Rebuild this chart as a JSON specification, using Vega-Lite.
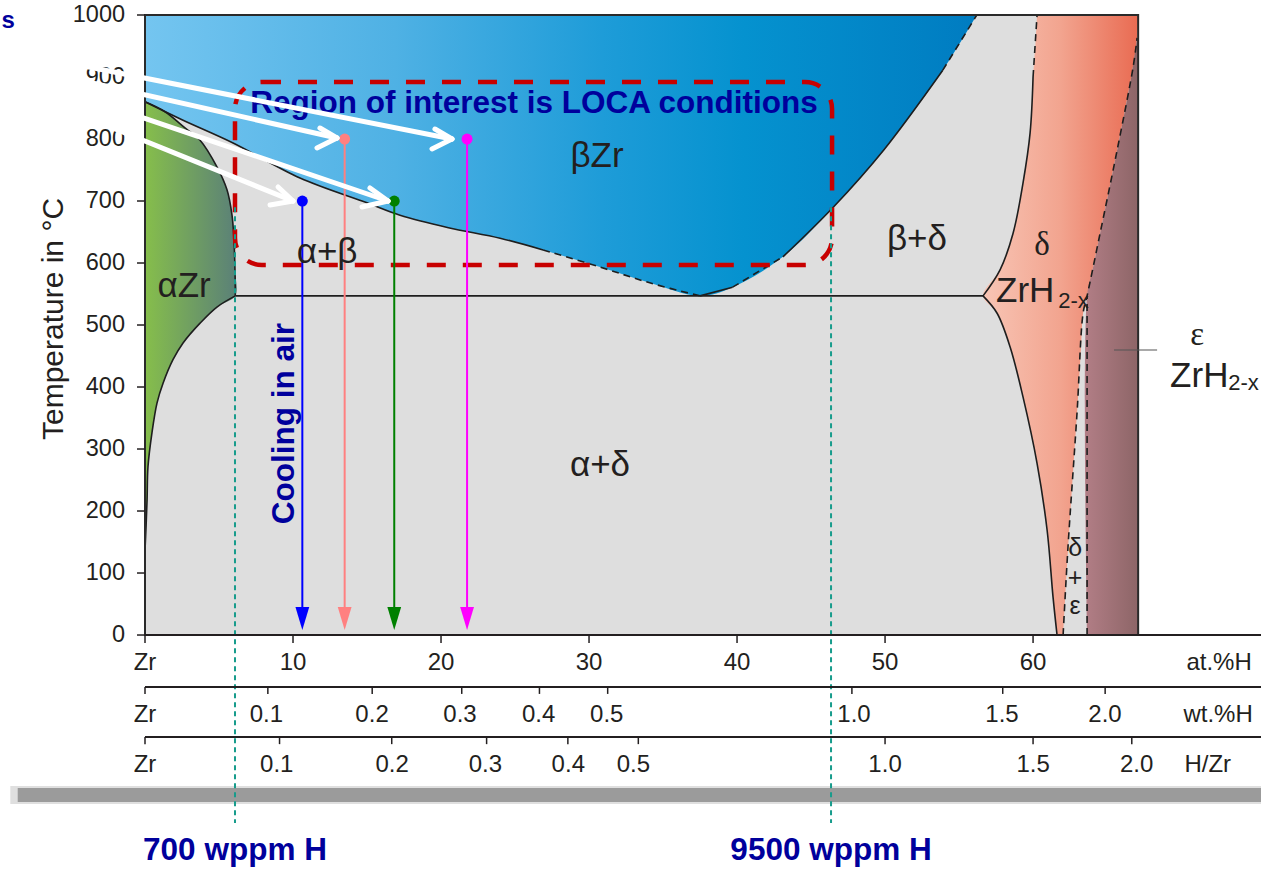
{
  "$schema": "https://vega.github.io/schema/vega-lite/v6.json",
  "width": 1116,
  "height": 856,
  "autosize": {"type": "none"},
  "padding": {"left": 145, "top": 15, "right": 0, "bottom": 0},
  "background": "white",
  "config": {"view": {"stroke": null}, "font": "Liberation Sans"},
  "datasets": {
    "frame": [{"x": 0, "x2": 67.1, "T": 0, "T2": 1000}],
    "blue": [
      {"x": 0, "T": 860}, {"x": 2.5, "T": 831}, {"x": 5.95, "T": 793.5}, {"x": 10.47, "T": 737},
      {"x": 15.0, "T": 697}, {"x": 17.23, "T": 677}, {"x": 20.5, "T": 657}, {"x": 23.99, "T": 640},
      {"x": 26.9, "T": 621}, {"x": 30.74, "T": 593.5}, {"x": 34.1, "T": 568}, {"x": 37.5, "T": 547},
      {"x": 39.7, "T": 561}, {"x": 43.1, "T": 610}, {"x": 46.5, "T": 690}, {"x": 49.9, "T": 782},
      {"x": 53.9, "T": 911}, {"x": 56.2, "T": 1000}
    ],
    "green": [
      {"T": 137, "x": 0}, {"T": 174, "x": 0.07}, {"T": 218, "x": 0.14}, {"T": 271, "x": 0.2},
      {"T": 326, "x": 0.47}, {"T": 374, "x": 0.81}, {"T": 406, "x": 1.22}, {"T": 444, "x": 1.89},
      {"T": 471, "x": 2.57}, {"T": 503, "x": 3.72}, {"T": 529, "x": 4.86}, {"T": 547, "x": 6.1},
      {"T": 589, "x": 6.08}, {"T": 637, "x": 6.01}, {"T": 677, "x": 5.88}, {"T": 718, "x": 5.54},
      {"T": 755, "x": 4.86}, {"T": 798, "x": 3.72}, {"T": 818, "x": 2.7}, {"T": 844, "x": 1.35},
      {"T": 860, "x": 0}
    ],
    "delta": [
      {"T": 0, "x": 61.62, "xr": 62.03}, {"T": 61, "x": 61.35, "xr": 62.17}, {"T": 169, "x": 60.95, "xr": 62.44},
      {"T": 277, "x": 60.27, "xr": 62.74}, {"T": 384, "x": 59.32, "xr": 63.04}, {"T": 464.5, "x": 58.45, "xr": 63.24},
      {"T": 519, "x": 57.57, "xr": 63.38}, {"T": 547, "x": 56.62, "xr": 63.65}, {"T": 589, "x": 57.77, "xr": 64.02},
      {"T": 648, "x": 58.65, "xr": 64.53}, {"T": 729, "x": 59.32, "xr": 65.23}, {"T": 810, "x": 59.8, "xr": 65.91},
      {"T": 900, "x": 60.0, "xr": 66.63}, {"T": 963, "x": 60.19, "xr": 67.03}, {"T": 1000, "x": 60.27, "xr": 67.1}
    ],
    "eps": [
      {"T": 0, "x": 63.65}, {"T": 547, "x": 63.65}, {"T": 589, "x": 64.02}, {"T": 648, "x": 64.53},
      {"T": 729, "x": 65.23}, {"T": 810, "x": 65.91}, {"T": 900, "x": 66.63}, {"T": 963, "x": 67.03}
    ],
    "solid": [
      {"id": "tL", "x": 0, "T": 860}, {"id": "tL", "x": 2.5, "T": 831}, {"id": "tL", "x": 5.95, "T": 793.5},
      {"id": "tL", "x": 10.47, "T": 737}, {"id": "tL", "x": 15.0, "T": 697}, {"id": "tL", "x": 17.23, "T": 677},
      {"id": "tL", "x": 20.5, "T": 657}, {"id": "tL", "x": 23.99, "T": 640}, {"id": "tL", "x": 26.9, "T": 621},
      {"id": "tR1", "x": 37.5, "T": 547}, {"id": "tR1", "x": 39.7, "T": 561},
      {"id": "tR2", "x": 43.1, "T": 610}, {"id": "tR2", "x": 46.5, "T": 690}, {"id": "tR2", "x": 49.9, "T": 782},
      {"id": "tR2", "x": 53.9, "T": 911},
      {"id": "aU", "x": 0, "T": 860}, {"id": "aU", "x": 1.35, "T": 844}, {"id": "aU", "x": 2.7, "T": 818},
      {"id": "aU", "x": 3.72, "T": 798}, {"id": "aU", "x": 4.86, "T": 755}, {"id": "aU", "x": 5.54, "T": 718},
      {"id": "aU", "x": 5.88, "T": 677}, {"id": "aU", "x": 6.01, "T": 637}, {"id": "aU", "x": 6.08, "T": 589},
      {"id": "aU", "x": 6.1, "T": 547},
      {"id": "aL", "x": 6.1, "T": 547}, {"id": "aL", "x": 4.86, "T": 529}, {"id": "aL", "x": 3.72, "T": 503},
      {"id": "aL", "x": 2.57, "T": 471}, {"id": "aL", "x": 1.89, "T": 444}, {"id": "aL", "x": 1.22, "T": 406},
      {"id": "aL", "x": 0.81, "T": 374}, {"id": "aL", "x": 0.47, "T": 326}, {"id": "aL", "x": 0.2, "T": 271},
      {"id": "aL", "x": 0.14, "T": 218}, {"id": "aL", "x": 0.07, "T": 174}, {"id": "aL", "x": 0, "T": 137},
      {"id": "eut", "x": 6.1, "T": 547}, {"id": "eut", "x": 56.62, "T": 547},
      {"id": "dLl", "x": 56.62, "T": 547}, {"id": "dLl", "x": 57.57, "T": 519}, {"id": "dLl", "x": 58.45, "T": 464.5},
      {"id": "dLl", "x": 59.32, "T": 384}, {"id": "dLl", "x": 60.27, "T": 277}, {"id": "dLl", "x": 60.95, "T": 169},
      {"id": "dLl", "x": 61.35, "T": 61}, {"id": "dLl", "x": 61.62, "T": 0},
      {"id": "dLu", "x": 56.62, "T": 547}, {"id": "dLu", "x": 57.77, "T": 589}, {"id": "dLu", "x": 58.65, "T": 648},
      {"id": "dLu", "x": 59.32, "T": 729}, {"id": "dLu", "x": 59.8, "T": 810}, {"id": "dLu", "x": 60.0, "T": 900}
    ],
    "dashed": [
      {"id": "tD1", "x": 26.9, "T": 621}, {"id": "tD1", "x": 30.74, "T": 593.5}, {"id": "tD1", "x": 34.1, "T": 568},
      {"id": "tD1", "x": 37.5, "T": 547},
      {"id": "tD2", "x": 39.7, "T": 561}, {"id": "tD2", "x": 43.1, "T": 610},
      {"id": "tD3", "x": 53.9, "T": 911}, {"id": "tD3", "x": 56.2, "T": 1000},
      {"id": "dLt", "x": 60.0, "T": 900}, {"id": "dLt", "x": 60.27, "T": 1000},
      {"id": "dR", "x": 62.03, "T": 0}, {"id": "dR", "x": 62.36, "T": 142}, {"id": "dR", "x": 62.97, "T": 358},
      {"id": "dR", "x": 63.38, "T": 519}, {"id": "dR", "x": 63.65, "T": 547}, {"id": "dR", "x": 64.53, "T": 648},
      {"id": "dR", "x": 65.68, "T": 782}, {"id": "dR", "x": 66.76, "T": 916}, {"id": "dR", "x": 67.03, "T": 963}
    ],
    "epsVert": [{"x": 63.65, "T": 0}, {"x": 63.65, "T": 547}],
    "roi": [{"x": 6.08, "x2": 46.42, "T": 891.9, "T2": 596.8}],
    "samples": [
      {"c": "blue", "x": 10.63, "T": 700}, {"c": "salmon", "x": 13.49, "T": 800},
      {"c": "green", "x": 16.84, "T": 700}, {"c": "magenta", "x": 21.76, "T": 800}
    ],
    "wppm": [{"x": 6.08, "label": "700 wppm H"}, {"x": 46.35, "label": "9500 wppm H"}],
    "white": [
      {"id": "A", "x": -4.39, "T": 919.0}, {"id": "A", "x": 20.74, "T": 800.0},
      {"id": "A1", "x": 19.59, "T": 816.1}, {"id": "A1", "x": 20.74, "T": 800.0},
      {"id": "A2", "x": 19.39, "T": 783.9}, {"id": "A2", "x": 20.74, "T": 800.0},
      {"id": "B", "x": -4.39, "T": 894.8}, {"id": "B", "x": 12.97, "T": 801.6},
      {"id": "B1", "x": 11.82, "T": 817.7}, {"id": "B1", "x": 12.97, "T": 801.6},
      {"id": "B2", "x": 11.62, "T": 785.5}, {"id": "B2", "x": 12.97, "T": 801.6},
      {"id": "C", "x": -4.39, "T": 868.9}, {"id": "C", "x": 16.42, "T": 700.0},
      {"id": "C1", "x": 15.2, "T": 721.0}, {"id": "C1", "x": 16.42, "T": 700.0},
      {"id": "C2", "x": 14.66, "T": 690.3}, {"id": "C2", "x": 16.42, "T": 700.0},
      {"id": "D", "x": -4.39, "T": 839.2}, {"id": "D", "x": 10.0, "T": 700.0},
      {"id": "D1", "x": 8.99, "T": 722.6}, {"id": "D1", "x": 10.0, "T": 700.0},
      {"id": "D2", "x": 8.45, "T": 693.5}, {"id": "D2", "x": 10.0, "T": 700.0}
    ],
    "yticks": [
      {"T": 0, "label": "0"}, {"T": 100, "label": "100"}, {"T": 200, "label": "200"}, {"T": 300, "label": "300"},
      {"T": 400, "label": "400"}, {"T": 500, "label": "500"}, {"T": 600, "label": "600"}, {"T": 700, "label": "700"},
      {"T": 800, "label": "800"}, {"T": 900, "label": "900"}, {"T": 1000, "label": "1000"}
    ],
    "phaseC": [
      {"x": 2.64, "T": 545, "label": "αZr"}, {"x": 30.54, "T": 755, "label": "βZr"},
      {"x": 12.3, "T": 600, "label": "α+β"}, {"x": 52.16, "T": 621, "label": "β+δ"},
      {"x": 30.74, "T": 256, "label": "α+δ"}
    ],
    "phaseL": [{"x": 57.5, "T": 537.6, "label": "ZrH"}, {"x": 69.26, "T": 400.5, "label": "ZrH"}],
    "subs": [{"x": 61.7, "T": 527, "label": "2-x"}, {"x": 73.18, "T": 395, "label": "2-x"}],
    "greek": [{"x": 60.6, "T": 613, "label": "δ"}, {"x": 71.08, "T": 467, "label": "ε"}],
    "stack": [{"x": 62.84, "T": 140, "label": "δ"}, {"x": 62.84, "T": 92, "label": "+"}, {"x": 62.84, "T": 47, "label": "ε"}],
    "scaleLines": [{"T": 0}, {"T": -84}, {"T": -164.5}],
    "scaleTicks": [
      {"x": 0, "T": 0, "T2": -13}, {"x": 10, "T": 0, "T2": -13}, {"x": 20, "T": 0, "T2": -13}, {"x": 30, "T": 0, "T2": -13},
      {"x": 40, "T": 0, "T2": -13}, {"x": 50, "T": 0, "T2": -13}, {"x": 60, "T": 0, "T2": -13},
      {"x": 0, "T": -84, "T2": -95}, {"x": 8.3, "T": -84, "T2": -95}, {"x": 15.35, "T": -84, "T2": -95},
      {"x": 21.4, "T": -84, "T2": -95}, {"x": 26.65, "T": -84, "T2": -95}, {"x": 31.26, "T": -84, "T2": -95},
      {"x": 47.76, "T": -84, "T2": -95}, {"x": 57.95, "T": -84, "T2": -95}, {"x": 64.87, "T": -84, "T2": -95},
      {"x": 0, "T": -164.5, "T2": -176}, {"x": 9.09, "T": -164.5, "T2": -176}, {"x": 16.67, "T": -164.5, "T2": -176},
      {"x": 23.08, "T": -164.5, "T2": -176}, {"x": 28.57, "T": -164.5, "T2": -176}, {"x": 33.33, "T": -164.5, "T2": -176},
      {"x": 50, "T": -164.5, "T2": -176}, {"x": 60, "T": -164.5, "T2": -176}, {"x": 66.67, "T": -164.5, "T2": -176}
    ],
    "scaleLabels": [
      {"x": 0, "T": -45, "label": "Zr"}, {"x": 10, "T": -45, "label": "10"}, {"x": 20, "T": -45, "label": "20"},
      {"x": 30, "T": -45, "label": "30"}, {"x": 40, "T": -45, "label": "40"}, {"x": 50, "T": -45, "label": "50"},
      {"x": 60, "T": -45, "label": "60"}, {"x": 72.57, "T": -45, "label": "at.%H"},
      {"x": 0, "T": -129, "label": "Zr"}, {"x": 8.2, "T": -129, "label": "0.1"}, {"x": 15.34, "T": -129, "label": "0.2"},
      {"x": 21.28, "T": -129, "label": "0.3"}, {"x": 26.6, "T": -129, "label": "0.4"}, {"x": 31.2, "T": -129, "label": "0.5"},
      {"x": 47.9, "T": -129, "label": "1.0"}, {"x": 57.9, "T": -129, "label": "1.5"}, {"x": 64.86, "T": -129, "label": "2.0"},
      {"x": 72.5, "T": -129, "label": "wt.%H"},
      {"x": 0, "T": -210, "label": "Zr"}, {"x": 8.9, "T": -210, "label": "0.1"}, {"x": 16.7, "T": -210, "label": "0.2"},
      {"x": 23.0, "T": -210, "label": "0.3"}, {"x": 28.6, "T": -210, "label": "0.4"}, {"x": 33.0, "T": -210, "label": "0.5"},
      {"x": 50, "T": -210, "label": "1.0"}, {"x": 60, "T": -210, "label": "1.5"}, {"x": 67.0, "T": -210, "label": "2.0"},
      {"x": 71.8, "T": -210, "label": "H/Zr"}
    ]
  },
  "layer": [
    {
      "data": {"name": "frame"},
      "mark": {"type": "rect", "fill": "#DEDEDE", "stroke": null},
      "encoding": {
        "x": {"field": "x", "type": "quantitative", "scale": {"domain": [0, 75.4], "nice": false, "zero": false}, "axis": null},
        "y": {"field": "T", "type": "quantitative", "scale": {"domain": [-380.6, 1000], "nice": false, "zero": false}, "axis": null},
        "x2": {"field": "x2"}, "y2": {"field": "T2"}
      }
    },
    {
      "data": {"name": "blue"},
      "mark": {"type": "area", "interpolate": "catmull-rom", "fill": {"gradient": "linear", "x1": 0, "y1": 0, "x2": 1, "y2": 0,
        "stops": [{"offset": 0, "color": "#74C5F0"}, {"offset": 0.3, "color": "#4FB1E4"}, {"offset": 0.55, "color": "#1E9CD8"}, {"offset": 0.72, "color": "#0592CF"}, {"offset": 1, "color": "#007CC1"}]}},
      "encoding": {
        "x": {"field": "x", "type": "quantitative", "scale": {"domain": [0, 75.4], "nice": false, "zero": false}, "axis": null},
        "y": {"field": "T", "type": "quantitative", "scale": {"domain": [-380.6, 1000], "nice": false, "zero": false}, "axis": null},
        "y2": {"datum": 1000}
      }
    },
    {
      "data": {"name": "green"},
      "mark": {"type": "area", "orient": "horizontal", "interpolate": "catmull-rom", "fill": {"gradient": "linear", "x1": 0, "y1": 0, "x2": 1, "y2": 0,
        "stops": [{"offset": 0, "color": "#86BE4B"}, {"offset": 1, "color": "#5A8078"}]}},
      "encoding": {
        "x": {"field": "x", "type": "quantitative", "axis": null},
        "y": {"field": "T", "type": "quantitative", "axis": null},
        "x2": {"datum": 0}
      }
    },
    {
      "data": {"name": "delta"},
      "mark": {"type": "area", "orient": "horizontal", "interpolate": "catmull-rom", "fill": {"gradient": "linear", "x1": 0, "y1": 0, "x2": 1, "y2": 0,
        "stops": [{"offset": 0, "color": "#F8C5B5"}, {"offset": 0.5, "color": "#F2A48F"}, {"offset": 1, "color": "#E96B52"}]}},
      "encoding": {
        "x": {"field": "x", "type": "quantitative", "axis": null},
        "y": {"field": "T", "type": "quantitative", "axis": null},
        "x2": {"field": "xr"}
      }
    },
    {
      "data": {"name": "eps"},
      "mark": {"type": "area", "orient": "horizontal", "interpolate": "catmull-rom", "fill": {"gradient": "linear", "x1": 0, "y1": 0, "x2": 1, "y2": 0,
        "stops": [{"offset": 0, "color": "#B27E86"}, {"offset": 1, "color": "#8D6567"}]}},
      "encoding": {
        "x": {"field": "x", "type": "quantitative", "axis": null},
        "y": {"field": "T", "type": "quantitative", "axis": null},
        "x2": {"datum": 67.1}
      }
    },
    {
      "data": {"name": "solid"},
      "mark": {"type": "line", "interpolate": "catmull-rom", "color": "#1E1E1E", "strokeWidth": 1.6},
      "encoding": {
        "x": {"field": "x", "type": "quantitative", "axis": null},
        "y": {"field": "T", "type": "quantitative", "axis": null},
        "detail": {"field": "id"}
      }
    },
    {
      "data": {"name": "dashed"},
      "mark": {"type": "line", "interpolate": "catmull-rom", "color": "#1E1E1E", "strokeWidth": 1.6, "strokeDash": [7, 5]},
      "encoding": {
        "x": {"field": "x", "type": "quantitative", "axis": null},
        "y": {"field": "T", "type": "quantitative", "axis": null},
        "detail": {"field": "id"}
      }
    },
    {
      "data": {"name": "epsVert"},
      "mark": {"type": "line", "color": "#1E1E1E", "strokeWidth": 1.6, "strokeDash": [7, 5]},
      "encoding": {
        "x": {"field": "x", "type": "quantitative", "axis": null},
        "y": {"field": "T", "type": "quantitative", "axis": null}
      }
    },
    {
      "data": {"name": "frame"},
      "mark": {"type": "rect", "filled": false, "stroke": "#2A2A2A", "strokeWidth": 2},
      "encoding": {
        "x": {"field": "x", "type": "quantitative", "axis": null},
        "y": {"field": "T", "type": "quantitative", "axis": null},
        "x2": {"field": "x2"}, "y2": {"field": "T2"}
      }
    },
    {
      "data": {"values": [{}]},
      "mark": {"type": "rule", "color": "#555555", "strokeWidth": 1.2},
      "encoding": {
        "x": {"datum": 65.47, "type": "quantitative", "axis": null},
        "x2": {"datum": 68.38},
        "y": {"datum": 459.7, "type": "quantitative", "axis": null}
      }
    },
    {
      "data": {"name": "roi"},
      "mark": {"type": "rect", "filled": false, "stroke": "#C80000", "strokeWidth": 4.5, "strokeDash": [19, 17], "cornerRadius": 27},
      "encoding": {
        "x": {"field": "x", "type": "quantitative", "axis": null},
        "y": {"field": "T", "type": "quantitative", "axis": null},
        "x2": {"field": "x2"}, "y2": {"field": "T2"}
      }
    },
    {
      "data": {"values": [{}]},
      "mark": {"type": "rect", "color": "#D2D2D2", "opacity": 0.7},
      "encoding": {
        "x": {"datum": -9.1, "type": "quantitative", "axis": null}, "x2": {"datum": 75.4},
        "y": {"datum": -243.5, "type": "quantitative", "axis": null}, "y2": {"datum": -272.5}
      }
    },
    {
      "data": {"values": [{}]},
      "mark": {"type": "rect", "color": "#9B9B9B"},
      "encoding": {
        "x": {"datum": -8.6, "type": "quantitative", "axis": null}, "x2": {"datum": 75.4},
        "y": {"datum": -246.8, "type": "quantitative", "axis": null}, "y2": {"datum": -269.4}
      }
    },
    {
      "data": {"name": "wppm"},
      "mark": {"type": "rule", "color": "#179C8C", "strokeWidth": 2, "strokeDash": [5, 4]},
      "encoding": {
        "x": {"field": "x", "type": "quantitative", "axis": null},
        "y": {"datum": 690, "type": "quantitative", "axis": null},
        "y2": {"datum": -303}
      }
    },
    {
      "data": {"name": "samples"},
      "mark": {"type": "rule", "strokeWidth": 2},
      "encoding": {
        "x": {"field": "x", "type": "quantitative", "axis": null},
        "y": {"field": "T", "type": "quantitative", "axis": null},
        "y2": {"datum": 40},
        "color": {"field": "c", "type": "nominal", "scale": {"domain": ["blue", "salmon", "green", "magenta"], "range": ["#0000FF", "#FF8080", "#008000", "#FF00FF"]}, "legend": null}
      }
    },
    {
      "data": {"name": "samples"},
      "mark": {"type": "point", "filled": true, "opacity": 1, "shape": "M-0.6,-1L0.6,-1L0,1Z", "size": 529},
      "encoding": {
        "x": {"field": "x", "type": "quantitative", "axis": null},
        "y": {"datum": 26.5, "type": "quantitative", "axis": null},
        "color": {"field": "c", "type": "nominal", "scale": {"domain": ["blue", "salmon", "green", "magenta"], "range": ["#0000FF", "#FF8080", "#008000", "#FF00FF"]}, "legend": null}
      }
    },
    {
      "data": {"name": "samples"},
      "mark": {"type": "circle", "opacity": 1, "size": 120},
      "encoding": {
        "x": {"field": "x", "type": "quantitative", "axis": null},
        "y": {"field": "T", "type": "quantitative", "axis": null},
        "color": {"field": "c", "type": "nominal", "scale": {"domain": ["blue", "salmon", "green", "magenta"], "range": ["#0000FF", "#FF8080", "#008000", "#FF00FF"]}, "legend": null}
      }
    },
    {
      "data": {"name": "phaseC"},
      "mark": {"type": "text", "fontSize": 35, "align": "center", "baseline": "alphabetic", "color": "#231F20"},
      "encoding": {
        "x": {"field": "x", "type": "quantitative", "axis": null},
        "y": {"field": "T", "type": "quantitative", "axis": null},
        "text": {"field": "label"}
      }
    },
    {
      "data": {"name": "phaseL"},
      "mark": {"type": "text", "fontSize": 35, "align": "left", "baseline": "alphabetic", "color": "#231F20"},
      "encoding": {
        "x": {"field": "x", "type": "quantitative", "axis": null},
        "y": {"field": "T", "type": "quantitative", "axis": null},
        "text": {"field": "label"}
      }
    },
    {
      "data": {"name": "subs"},
      "mark": {"type": "text", "fontSize": 22, "align": "left", "baseline": "alphabetic", "color": "#231F20"},
      "encoding": {
        "x": {"field": "x", "type": "quantitative", "axis": null},
        "y": {"field": "T", "type": "quantitative", "axis": null},
        "text": {"field": "label"}
      }
    },
    {
      "data": {"name": "greek"},
      "mark": {"type": "text", "fontSize": 33, "align": "center", "baseline": "alphabetic", "color": "#231F20", "font": "Liberation Serif"},
      "encoding": {
        "x": {"field": "x", "type": "quantitative", "axis": null},
        "y": {"field": "T", "type": "quantitative", "axis": null},
        "text": {"field": "label"}
      }
    },
    {
      "data": {"name": "stack"},
      "mark": {"type": "text", "fontSize": 25, "align": "center", "baseline": "middle", "color": "#231F20"},
      "encoding": {
        "x": {"field": "x", "type": "quantitative", "axis": null},
        "y": {"field": "T", "type": "quantitative", "axis": null},
        "text": {"field": "label"}
      }
    },
    {
      "data": {"values": [{"label": "Region of interest is LOCA conditions"}]},
      "mark": {"type": "text", "fontSize": 31.5, "fontWeight": "bold", "align": "center", "baseline": "alphabetic", "color": "#00009C"},
      "encoding": {
        "x": {"datum": 26.28, "type": "quantitative", "axis": null},
        "y": {"datum": 842, "type": "quantitative", "axis": null},
        "text": {"field": "label"}
      }
    },
    {
      "data": {"values": [{"label": "Cooling in air"}]},
      "mark": {"type": "text", "fontSize": 31.5, "fontWeight": "bold", "align": "center", "baseline": "middle", "angle": 270, "color": "#00009C"},
      "encoding": {
        "x": {"datum": 9.46, "type": "quantitative", "axis": null},
        "y": {"datum": 341, "type": "quantitative", "axis": null},
        "text": {"field": "label"}
      }
    },
    {
      "data": {"name": "wppm"},
      "mark": {"type": "text", "fontSize": 31.5, "fontWeight": "bold", "align": "center", "baseline": "middle", "color": "#00009C"},
      "encoding": {
        "x": {"field": "x", "type": "quantitative", "axis": null},
        "y": {"datum": -348.4, "type": "quantitative", "axis": null},
        "text": {"field": "label"}
      }
    },
    {
      "data": {"values": [{"label": "s"}]},
      "mark": {"type": "text", "fontSize": 24, "fontWeight": "bold", "align": "left", "baseline": "middle", "color": "#00009C"},
      "encoding": {
        "x": {"datum": -9.7, "type": "quantitative", "axis": null},
        "y": {"datum": 990, "type": "quantitative", "axis": null},
        "text": {"field": "label"}
      }
    },
    {
      "data": {"name": "yticks"},
      "mark": {"type": "rule", "color": "#231F20", "strokeWidth": 1.5},
      "encoding": {
        "x": {"datum": -0.54, "type": "quantitative", "axis": null},
        "x2": {"datum": 0},
        "y": {"field": "T", "type": "quantitative", "axis": null}
      }
    },
    {
      "data": {"name": "yticks"},
      "mark": {"type": "text", "fontSize": 23.5, "align": "right", "baseline": "middle", "color": "#231F20"},
      "encoding": {
        "x": {"datum": -1.35, "type": "quantitative", "axis": null},
        "y": {"field": "T", "type": "quantitative", "axis": null},
        "text": {"field": "label"}
      }
    },
    {
      "data": {"values": [{"label": "Temperature in °C"}]},
      "mark": {"type": "text", "fontSize": 30, "align": "center", "baseline": "alphabetic", "angle": 270, "color": "#231F20"},
      "encoding": {
        "x": {"datum": -5.54, "type": "quantitative", "axis": null},
        "y": {"datum": 509.7, "type": "quantitative", "axis": null},
        "text": {"field": "label"}
      }
    },
    {
      "data": {"name": "scaleLines"},
      "mark": {"type": "rule", "color": "#231F20", "strokeWidth": 2},
      "encoding": {
        "x": {"datum": 0, "type": "quantitative", "axis": null},
        "x2": {"datum": 75.4},
        "y": {"field": "T", "type": "quantitative", "axis": null}
      }
    },
    {
      "data": {"name": "scaleTicks"},
      "mark": {"type": "rule", "color": "#231F20", "strokeWidth": 1.5},
      "encoding": {
        "x": {"field": "x", "type": "quantitative", "axis": null},
        "y": {"field": "T", "type": "quantitative", "axis": null},
        "y2": {"field": "T2"}
      }
    },
    {
      "data": {"name": "scaleLabels"},
      "mark": {"type": "text", "fontSize": 24, "align": "center", "baseline": "middle", "color": "#231F20"},
      "encoding": {
        "x": {"field": "x", "type": "quantitative", "axis": null},
        "y": {"field": "T", "type": "quantitative", "axis": null},
        "text": {"field": "label"}
      }
    },
    {
      "data": {"name": "white"},
      "mark": {"type": "line", "color": "#FFFFFF", "strokeWidth": 5, "strokeCap": "round"},
      "encoding": {
        "x": {"field": "x", "type": "quantitative", "axis": null},
        "y": {"field": "T", "type": "quantitative", "axis": null},
        "detail": {"field": "id"}
      }
    }
  ]
}
